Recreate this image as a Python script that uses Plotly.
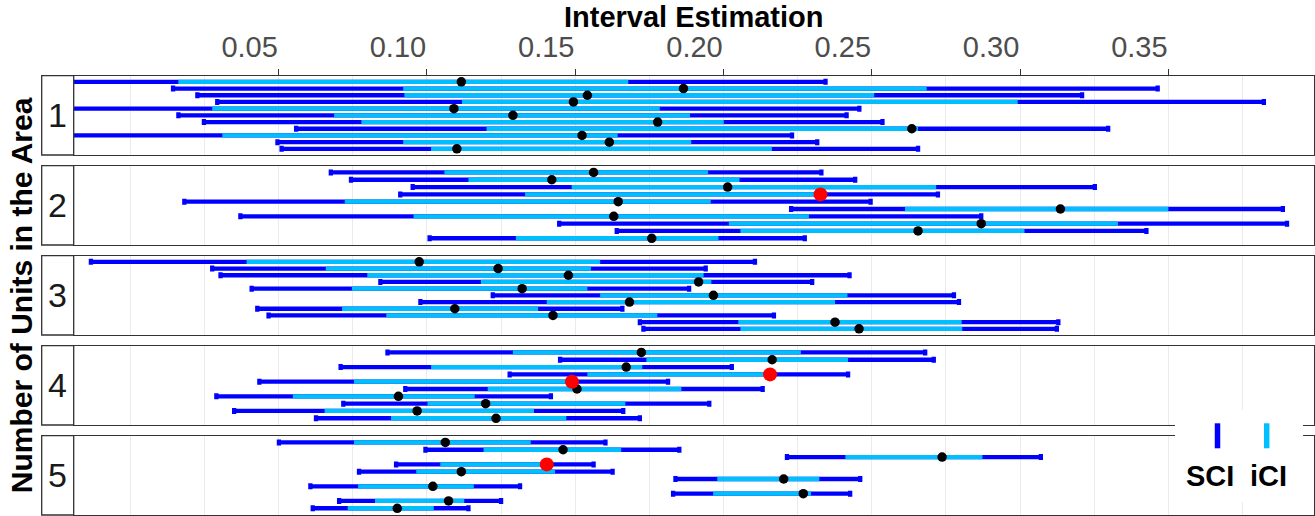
import plotly.graph_objects as go

# ---------------- data ----------------
panel_labels = ["1", "2", "3", "4", "5"]
tick_vals = [0.05, 0.10, 0.15, 0.20, 0.25, 0.30, 0.35]
tick_text = ["0.05", "0.10", "0.15", "0.20", "0.25", "0.30", "0.35"]
minor_vals = [0.0, 0.025, 0.075, 0.125, 0.175, 0.225, 0.275, 0.325, 0.375]
legend_labels = ["SCI", "iCI"]

# panel 1
sci_lo_1 = [-0.030, 0.0144, 0.0226, 0.0293, -0.030, 0.0162, 0.0248, 0.0559, -0.030, 0.0496, 0.0510]
ici_lo_1 = [0.0162, 0.0920, 0.0924, 0.1118, 0.0276, 0.0687, 0.0779, 0.1201, 0.0310, 0.0920, 0.1014]
est_1 = [0.1116, 0.1865, 0.1541, 0.1494, 0.1091, 0.1290, 0.1778, 0.2635, 0.1523, 0.1615, 0.1101]
ici_hi_1 = [0.1679, 0.2685, 0.2508, 0.2992, 0.1785, 0.1887, 0.2001, 0.2656, 0.1643, 0.1891, 0.2163]
sci_hi_1 = [0.2344, 0.3464, 0.3209, 0.3822, 0.2458, 0.2415, 0.2536, 0.3297, 0.2231, 0.2316, 0.2656]
red_1 = []

# panel 2
sci_lo_2 = [0.0676, 0.0744, 0.0952, 0.0910, 0.0182, 0.2228, 0.0371, 0.1446, 0.1640, 0.1009]
ici_lo_2 = [0.1059, 0.1140, 0.1488, 0.1331, 0.0723, 0.2612, 0.0955, 0.2018, 0.2057, 0.1300]
est_2 = [0.1562, 0.1421, 0.2014, 0.2327, 0.1645, 0.3136, 0.1630, 0.2869, 0.2656, 0.1758]
ici_hi_2 = [0.1948, 0.2054, 0.2717, 0.2306, 0.1957, 0.3500, 0.2288, 0.3330, 0.3015, 0.1983]
sci_hi_2 = [0.2330, 0.2444, 0.3252, 0.2723, 0.2496, 0.3886, 0.2869, 0.3900, 0.3426, 0.2274]
red_2 = [3]

# panel 3
sci_lo_3 = [-0.0133, 0.0276, 0.0304, 0.0843, 0.0409, 0.1222, 0.0978, 0.0428, 0.0466, 0.1718, 0.1730]
ici_lo_3 = [0.0392, 0.0659, 0.0799, 0.1182, 0.0747, 0.1584, 0.1404, 0.0714, 0.0863, 0.2050, 0.2057]
est_3 = [0.0974, 0.1240, 0.1477, 0.1916, 0.1321, 0.1966, 0.1683, 0.1094, 0.1425, 0.2376, 0.2457]
ici_hi_3 = [0.1584, 0.1553, 0.1933, 0.1959, 0.1541, 0.2418, 0.2376, 0.1375, 0.1777, 0.2803, 0.2805]
sci_hi_3 = [0.2106, 0.1940, 0.2425, 0.2299, 0.1884, 0.2777, 0.2794, 0.1659, 0.2170, 0.3129, 0.3124]
red_3 = []

# panel 4
sci_lo_4 = [0.0867, 0.1449, 0.0709, 0.1279, 0.0435, 0.0927, 0.0290, 0.0718, 0.0350, 0.0626]
ici_lo_4 = [0.1290, 0.1740, 0.1014, 0.1541, 0.0754, 0.1205, 0.0548, 0.1002, 0.0655, 0.0879]
est_4 = [0.1723, 0.2164, 0.1672, 0.2157, 0.1489, 0.1506, 0.0904, 0.1198, 0.0967, 0.1233]
ici_hi_4 = [0.2261, 0.2420, 0.1726, 0.2136, 0.1470, 0.1858, 0.1161, 0.1669, 0.1361, 0.1470]
sci_hi_4 = [0.2680, 0.2709, 0.2028, 0.2420, 0.1813, 0.2132, 0.1418, 0.1952, 0.1662, 0.1718]
red_4 = [3, 4]

# panel 5
sci_lo_5 = [0.0501, 0.0995, 0.2214, 0.0896, 0.0771, 0.1838, 0.0607, 0.1830, 0.0704, 0.0615]
ici_lo_5 = [0.0754, 0.1191, 0.2411, 0.1045, 0.0964, 0.1979, 0.0768, 0.1965, 0.0825, 0.0733]
est_5 = [0.1062, 0.1459, 0.2737, 0.1404, 0.1116, 0.2203, 0.1020, 0.2269, 0.1073, 0.0900]
ici_hi_5 = [0.1350, 0.1655, 0.2873, 0.1420, 0.1432, 0.2323, 0.1158, 0.2295, 0.1126, 0.1023]
sci_hi_5 = [0.1602, 0.1851, 0.3070, 0.1562, 0.1626, 0.2461, 0.1314, 0.2427, 0.1250, 0.1140]
red_5 = [3]

groups = [
    (sci_lo_1, ici_lo_1, est_1, ici_hi_1, sci_hi_1, red_1),
    (sci_lo_2, ici_lo_2, est_2, ici_hi_2, sci_hi_2, red_2),
    (sci_lo_3, ici_lo_3, est_3, ici_hi_3, sci_hi_3, red_3),
    (sci_lo_4, ici_lo_4, est_4, ici_hi_4, sci_hi_4, red_4),
    (sci_lo_5, ici_lo_5, est_5, ici_hi_5, sci_hi_5, red_5),
]

# ---------------- style / layout ----------------
W, H = 1315, 516
DARK = "#0000FF"
LIGHT = "#00BFFF"
BORDER = "#333333"
GRID = "#EBEBEB"
FONT = "Liberation Sans, Arial, sans-serif"

PLOT_L, PLOT_R = 73.7, 1313.7
STRIP_L = 41.7
PANEL_TOP0, PANEL_STEP, PANEL_H = 75.7, 90.0, 79.3
X_RANGE = [-0.0191, 0.3990]
Y_PAD = 0.92
BAR_W = 4.3          # px thickness of the interval bars
CAP_HALF_PX = 3.0    # px half-height of the SCI end caps


def px_x(v):
    return v / W


def px_y(v):
    return 1 - v / H


fig = go.Figure()
layout = dict(
    width=W, height=H, autosize=False,
    margin=dict(l=0, r=0, t=0, b=0),
    paper_bgcolor="white", plot_bgcolor="white",
    showlegend=False,
    font=dict(family=FONT, color="black"),
)
shapes = []
annotations = []

for k, (slo, ilo, est, ihi, shi, red) in enumerate(groups):
    n = len(est)
    rows = list(range(1, n + 1))
    xa = "x" if k == 0 else f"x{k + 1}"
    ya = "y" if k == 0 else f"y{k + 1}"
    top = PANEL_TOP0 + k * PANEL_STEP
    bot = top + PANEL_H
    unit_px = PANEL_H / (n - 1 + 2 * Y_PAD)
    ch = CAP_HALF_PX / unit_px

    # SCI segments
    xs, ys = [], []
    for i in range(n):
        xs += [slo[i], shi[i], None]
        ys += [rows[i], rows[i], None]
    fig.add_trace(go.Scatter(x=xs, y=ys, mode="lines", line=dict(color=DARK, width=BAR_W),
                             xaxis=xa, yaxis=ya, hoverinfo="skip"))
    # SCI end caps (short vertical segments at each end)
    xs, ys = [], []
    for i in range(n):
        for v in (slo[i], shi[i]):
            xs += [v, v, None]
            ys += [rows[i] - ch, rows[i] + ch, None]
    fig.add_trace(go.Scatter(x=xs, y=ys, mode="lines", line=dict(color=DARK, width=BAR_W),
                             xaxis=xa, yaxis=ya, hoverinfo="skip"))
    # iCI segments
    xs, ys = [], []
    for i in range(n):
        xs += [ilo[i], ihi[i], None]
        ys += [rows[i], rows[i], None]
    fig.add_trace(go.Scatter(x=xs, y=ys, mode="lines", line=dict(color=LIGHT, width=BAR_W),
                             xaxis=xa, yaxis=ya, hoverinfo="skip"))
    # point estimates
    bi = [i for i in range(n) if i not in red]
    fig.add_trace(go.Scatter(x=[est[i] for i in bi], y=[rows[i] for i in bi], mode="markers",
                             marker=dict(color="black", size=9.5, line=dict(width=0)),
                             xaxis=xa, yaxis=ya, hoverinfo="skip"))
    if red:
        fig.add_trace(go.Scatter(x=[est[i] for i in red], y=[rows[i] for i in red], mode="markers",
                                 marker=dict(color="#FF0000", size=14, line=dict(width=0)),
                                 xaxis=xa, yaxis=ya, hoverinfo="skip"))

    xkey = "xaxis" if k == 0 else f"xaxis{k + 1}"
    ykey = "yaxis" if k == 0 else f"yaxis{k + 1}"
    xax = dict(
        domain=[px_x(PLOT_L), px_x(PLOT_R)], range=X_RANGE, anchor=ya,
        showgrid=True, gridcolor=GRID, gridwidth=1.4, zeroline=False,
        minor=dict(tickmode="array", tickvals=minor_vals, showgrid=True, gridcolor=GRID,
                   gridwidth=0.8, ticks=""),
        tickmode="array", tickvals=tick_vals, ticktext=tick_text,
        showline=True, mirror=True, linecolor=BORDER, linewidth=1.3,
    )
    if k == 0:
        xax.update(side="top", ticks="outside", ticklen=5.7, tickwidth=1.3, tickcolor=BORDER,
                   showticklabels=True, ticklabelshift=-29,
                   tickfont=dict(family=FONT, size=29, color="#4D4D4D"))
    else:
        xax.update(matches="x", ticks="", showticklabels=False)
    layout[xkey] = xax
    layout[ykey] = dict(
        domain=[px_y(bot), px_y(top)], range=[n + Y_PAD, 1 - Y_PAD], anchor=xa,
        showgrid=False, zeroline=False, ticks="", showticklabels=False,
        showline=True, mirror=True, linecolor=BORDER, linewidth=1.3,
    )

    # strip on the left
    shapes.append(dict(type="rect", xref="paper", yref="paper",
                       x0=px_x(STRIP_L), x1=px_x(PLOT_L), y0=px_y(bot), y1=px_y(top),
                       line=dict(color=BORDER, width=1.3), fillcolor="white", layer="above"))
    annotations.append(dict(text=panel_labels[k], xref="paper", yref="paper",
                            x=px_x((STRIP_L + PLOT_L) / 2), y=px_y((top + bot) / 2),
                            xanchor="center", yanchor="middle", showarrow=False,
                            font=dict(family=FONT, size=34, color="#1A1A1A")))

# titles
annotations.append(dict(text="<b>Interval Estimation</b>", xref="paper", yref="paper",
                        x=px_x((PLOT_L + PLOT_R) / 2), y=px_y(17.2), xanchor="center", yanchor="middle",
                        showarrow=False, font=dict(family=FONT, size=29, color="black")))
annotations.append(dict(text="<b>Number of Units in the Area</b>", xref="paper", yref="paper",
                        x=px_x(21.2), y=px_y(295), xanchor="center", yanchor="middle", textangle=-90,
                        showarrow=False, font=dict(family=FONT, size=30, color="black")))

# legend (inside, bottom-right)
shapes.append(dict(type="rect", xref="paper", yref="paper", x0=px_x(1175), x1=px_x(1303),
                   y0=px_y(502), y1=px_y(410), fillcolor="white", line=dict(width=0), layer="above"))
for cx, col in [(1217.5, DARK), (1266.7, LIGHT)]:
    shapes.append(dict(type="line", xref="paper", yref="paper", x0=px_x(cx), x1=px_x(cx),
                       y0=px_y(448.3), y1=px_y(423.3), line=dict(color=col, width=5.5), layer="above"))
for cx, lab in [(1210, legend_labels[0]), (1268.4, legend_labels[1])]:
    annotations.append(dict(text=f"<b>{lab}</b>", xref="paper", yref="paper", x=px_x(cx), y=px_y(475.5),
                            xanchor="center", yanchor="middle", showarrow=False,
                            font=dict(family=FONT, size=29, color="black")))

layout["shapes"] = shapes
layout["annotations"] = annotations
fig.update_layout(**layout)

fig.write_html("out.html")
